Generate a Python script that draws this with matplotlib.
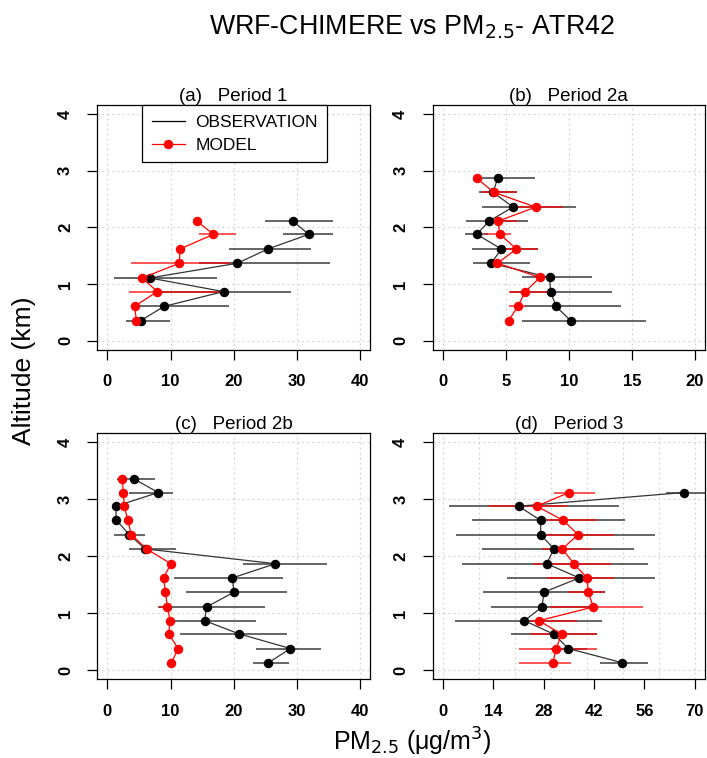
import matplotlib
matplotlib.use("Agg")
import matplotlib.pyplot as plt
from matplotlib.lines import Line2D
import numpy as np

plt.rcParams['font.family'] = ['Liberation Sans', 'DejaVu Sans']

# ---------------- data ----------------
titles = ["(a)   Period 1", "(b)   Period 2a", "(c)   Period 2b", "(d)   Period 3"]

alt_a = [2.11, 1.88, 1.62, 1.37, 1.11, 0.87, 0.61, 0.36]
obs_a = [29.4, 31.9, 25.4, 20.6, 6.7, 18.4, 9.0, 5.3]
obs_a_lo = [24.9, 27.8, 19.2, 14.5, 1.05, 7.7, 4.0, 2.9]
obs_a_hi = [35.7, 35.8, 32.3, 35.2, 17.4, 29.1, 19.3, 9.9]
mod_a = [14.2, 16.8, 11.5, 11.4, 5.5, 7.9, 4.3, 4.6]
mod_a_lo = [14.2, 14.5, 11.5, 3.7, 5.5, 3.5, 4.3, 4.6]
mod_a_hi = [14.2, 20.4, 11.5, 19.4, 5.5, 18.3, 4.3, 4.6]

alt_b = [2.87, 2.62, 2.36, 2.11, 1.88, 1.62, 1.37, 1.12, 0.87, 0.61, 0.36]
obs_b = [4.37, 4.0, 5.59, 3.66, 2.71, 4.66, 3.85, 8.48, 8.56, 8.99, 10.14]
obs_b_lo = [3.0, 2.85, 3.1, 1.87, 1.79, 2.32, 2.4, 6.3, 5.35, 6.5, 6.3]
obs_b_hi = [7.35, 5.88, 10.6, 6.75, 3.6, 7.54, 6.93, 11.88, 13.4, 14.15, 16.1]
mod_b = [2.71, 4.06, 7.38, 4.37, 4.56, 5.85, 4.35, 7.72, 6.56, 5.96, 5.24]
mod_b_lo = [2.71, 3.1, 5.88, 3.5, 3.4, 4.37, 4.0, 7.3, 5.3, 5.3, 5.24]
mod_b_hi = [2.71, 5.9, 9.57, 5.9, 5.43, 7.54, 4.7, 8.2, 8.25, 6.6, 5.24]

alt_c = [3.36, 3.12, 2.88, 2.64, 2.38, 2.13, 1.87, 1.62, 1.37, 1.11, 0.87, 0.64, 0.38, 0.13]
obs_c = [4.2, 8.05, 1.37, 1.37, 3.47, 6.0, 26.6, 19.8, 20.05, 15.7, 15.4, 20.8, 29.0, 25.5]
obs_c_lo = [1.5, 3.5, 1.37, 1.37, 1.05, 3.5, 21.5, 10.5, 12.5, 8.05, 10.4, 11.5, 23.6, 23.05]
obs_c_hi = [7.6, 10.4, 1.37, 1.37, 5.9, 10.8, 34.8, 27.8, 28.4, 24.9, 23.5, 28.4, 33.9, 28.7]
mod_c = [2.37, 2.5, 2.7, 3.2, 3.8, 6.2, 10.05, 8.9, 9.2, 9.5, 9.95, 9.7, 11.2, 10.15]
mod_c_lo = [2.0, 2.2, 2.3, 2.8, 3.3, 5.7, 9.6, 8.4, 8.8, 8.1, 9.5, 9.2, 10.7, 9.7]
mod_c_hi = [2.8, 2.9, 3.2, 3.6, 4.4, 6.7, 10.5, 9.4, 9.7, 10.2, 10.4, 10.2, 11.7, 10.6]

alt_d = [3.12, 2.88, 2.63, 2.38, 2.13, 1.87, 1.62, 1.37, 1.11, 0.87, 0.63, 0.38, 0.13]
obs_d = [66.9, 21.1, 27.2, 27.2, 30.9, 28.9, 37.9, 28.1, 27.6, 22.7, 30.9, 34.9, 49.9]
obs_d_lo = [62.0, 1.75, 8.1, 3.8, 10.9, 5.35, 17.8, 11.2, 13.4, 3.5, 19.1, 30.0, 43.7]
obs_d_hi = [78.0, 48.9, 50.6, 59.0, 53.0, 56.9, 58.8, 45.0, 41.8, 44.1, 42.9, 40.0, 56.9]
mod_d = [35.1, 26.1, 33.5, 37.6, 33.2, 36.4, 40.1, 40.4, 41.8, 26.8, 33.0, 31.5, 30.6]
mod_d_lo = [31.0, 12.9, 28.9, 28.1, 27.7, 25.2, 28.9, 34.7, 29.8, 24.3, 24.3, 21.3, 21.3]
mod_d_hi = [42.4, 34.4, 42.9, 47.5, 41.3, 46.8, 47.5, 45.0, 55.7, 37.2, 42.9, 42.9, 35.5]

xticks_a = [0, 10, 20, 30, 40]
xticks_b = [0, 5, 10, 15, 20]
xticks_c = [0, 10, 20, 30, 40]
xticks_d = [0, 14, 28, 42, 56, 70]
xgrid_d = [0, 10, 20, 30, 40, 50, 60, 70]
yticks = [0, 1, 2, 3, 4]

panels = [
    (alt_a, obs_a, obs_a_lo, obs_a_hi, mod_a, mod_a_lo, mod_a_hi, xticks_a, xticks_a),
    (alt_b, obs_b, obs_b_lo, obs_b_hi, mod_b, mod_b_lo, mod_b_hi, xticks_b, xticks_b),
    (alt_c, obs_c, obs_c_lo, obs_c_hi, mod_c, mod_c_lo, mod_c_hi, xticks_c, xticks_c),
    (alt_d, obs_d, obs_d_lo, obs_d_hi, mod_d, mod_d_lo, mod_d_hi, xticks_d, xgrid_d),
]

W, H = 707, 758
fig = plt.figure(figsize=(W / 100, H / 100), dpi=100)

boxes = [
    (97.3, 105, 370, 350),
    (432.5, 105, 705, 350),
    (97.3, 433.3, 370, 679.3),
    (432.5, 433.3, 705, 679.3),
]

for i, (box, p) in enumerate(zip(boxes, panels)):
    x0, y0, x1, y1 = box
    ax = fig.add_axes([x0 / W, 1 - y1 / H, (x1 - x0) / W, (y1 - y0) / H])
    alt, ob, olo, ohi, md, mlo, mhi, xt, xg = p
    alt = np.array(alt)
    ob, olo, ohi = np.array(ob), np.array(olo), np.array(ohi)
    md, mlo, mhi = np.array(md), np.array(mlo), np.array(mhi)

    for g in xg:
        ax.axvline(g, color='#d3d3d3', lw=0.9, ls=(0, (1.5, 2.5)), zorder=0)
    for g in yticks:
        ax.axhline(g, color='#d3d3d3', lw=0.9, ls=(0, (1.5, 2.5)), zorder=0)

    ax.hlines(alt, olo, ohi, color='#1a1a1a', lw=1.1, alpha=0.85, zorder=2)
    ax.hlines(alt, mlo, mhi, color='#ff0000', lw=1.1, alpha=0.85, zorder=3)
    ax.plot(ob, alt, color='#333333', lw=0.9, marker='o', ms=5.8,
            mfc='black', mec='black', zorder=4, label='OBSERVATION')
    ax.plot(md, alt, color='#ff0000', lw=0.9, marker='o', ms=5.8,
            mfc='#ff0000', mec='#ff0000', zorder=5, label='MODEL')

    xmin, xmax = xt[0], xt[-1]
    ext = 0.04 * (xmax - xmin)
    ax.set_xlim(xmin - ext, xmax + ext)
    ax.set_ylim(-0.16, 4.16)
    ax.set_xticks(xt)
    ax.set_yticks(yticks)
    ax.tick_params(axis='both', direction='out', length=7.5, width=0.9,
                   labelsize=12, pad=10)
    for lbl in ax.get_xticklabels():
        lbl.set_fontweight('bold')
    for lbl in ax.get_yticklabels():
        lbl.set_fontweight('bold')
        lbl.set_rotation(90)
        lbl.set_va('center')
    for s in ax.spines.values():
        s.set_linewidth(0.9)
    ax.set_title(titles[i], fontsize=13.5, pad=3)

    if i == 0:
        h1 = Line2D([], [], color='black', lw=0.9)
        h2 = Line2D([], [], color='#ff0000', lw=0.9, marker='o', ms=5.8)
        leg = ax.legend([h1, h2], ['OBSERVATION', 'MODEL'], loc='upper left',
                        bbox_to_anchor=(0.165, 1.0), borderaxespad=0,
                        fancybox=False, edgecolor='black', framealpha=1,
                        fontsize=12.5, handlelength=1.9, handletextpad=0.6,
                        labelspacing=0.45, borderpad=0.55)
        leg.get_frame().set_linewidth(0.9)
        leg.set_zorder(10)

fig.text(412 / W, 1 - 27 / H, r'WRF-CHIMERE vs PM$_{2.5}$- ATR42',
         ha='center', va='center', fontsize=19.3)
fig.text(24 / W, 1 - 371 / H, 'Altitude (km)', rotation=90,
         ha='center', va='center', fontsize=19)
fig.text(412 / W, 1 - 742 / H, r'PM$_{2.5}$ ($\mathregular{\mu}$g/m$^{3}$)',
         ha='center', va='center', fontsize=18)

fig.savefig('out.png', dpi=100)
